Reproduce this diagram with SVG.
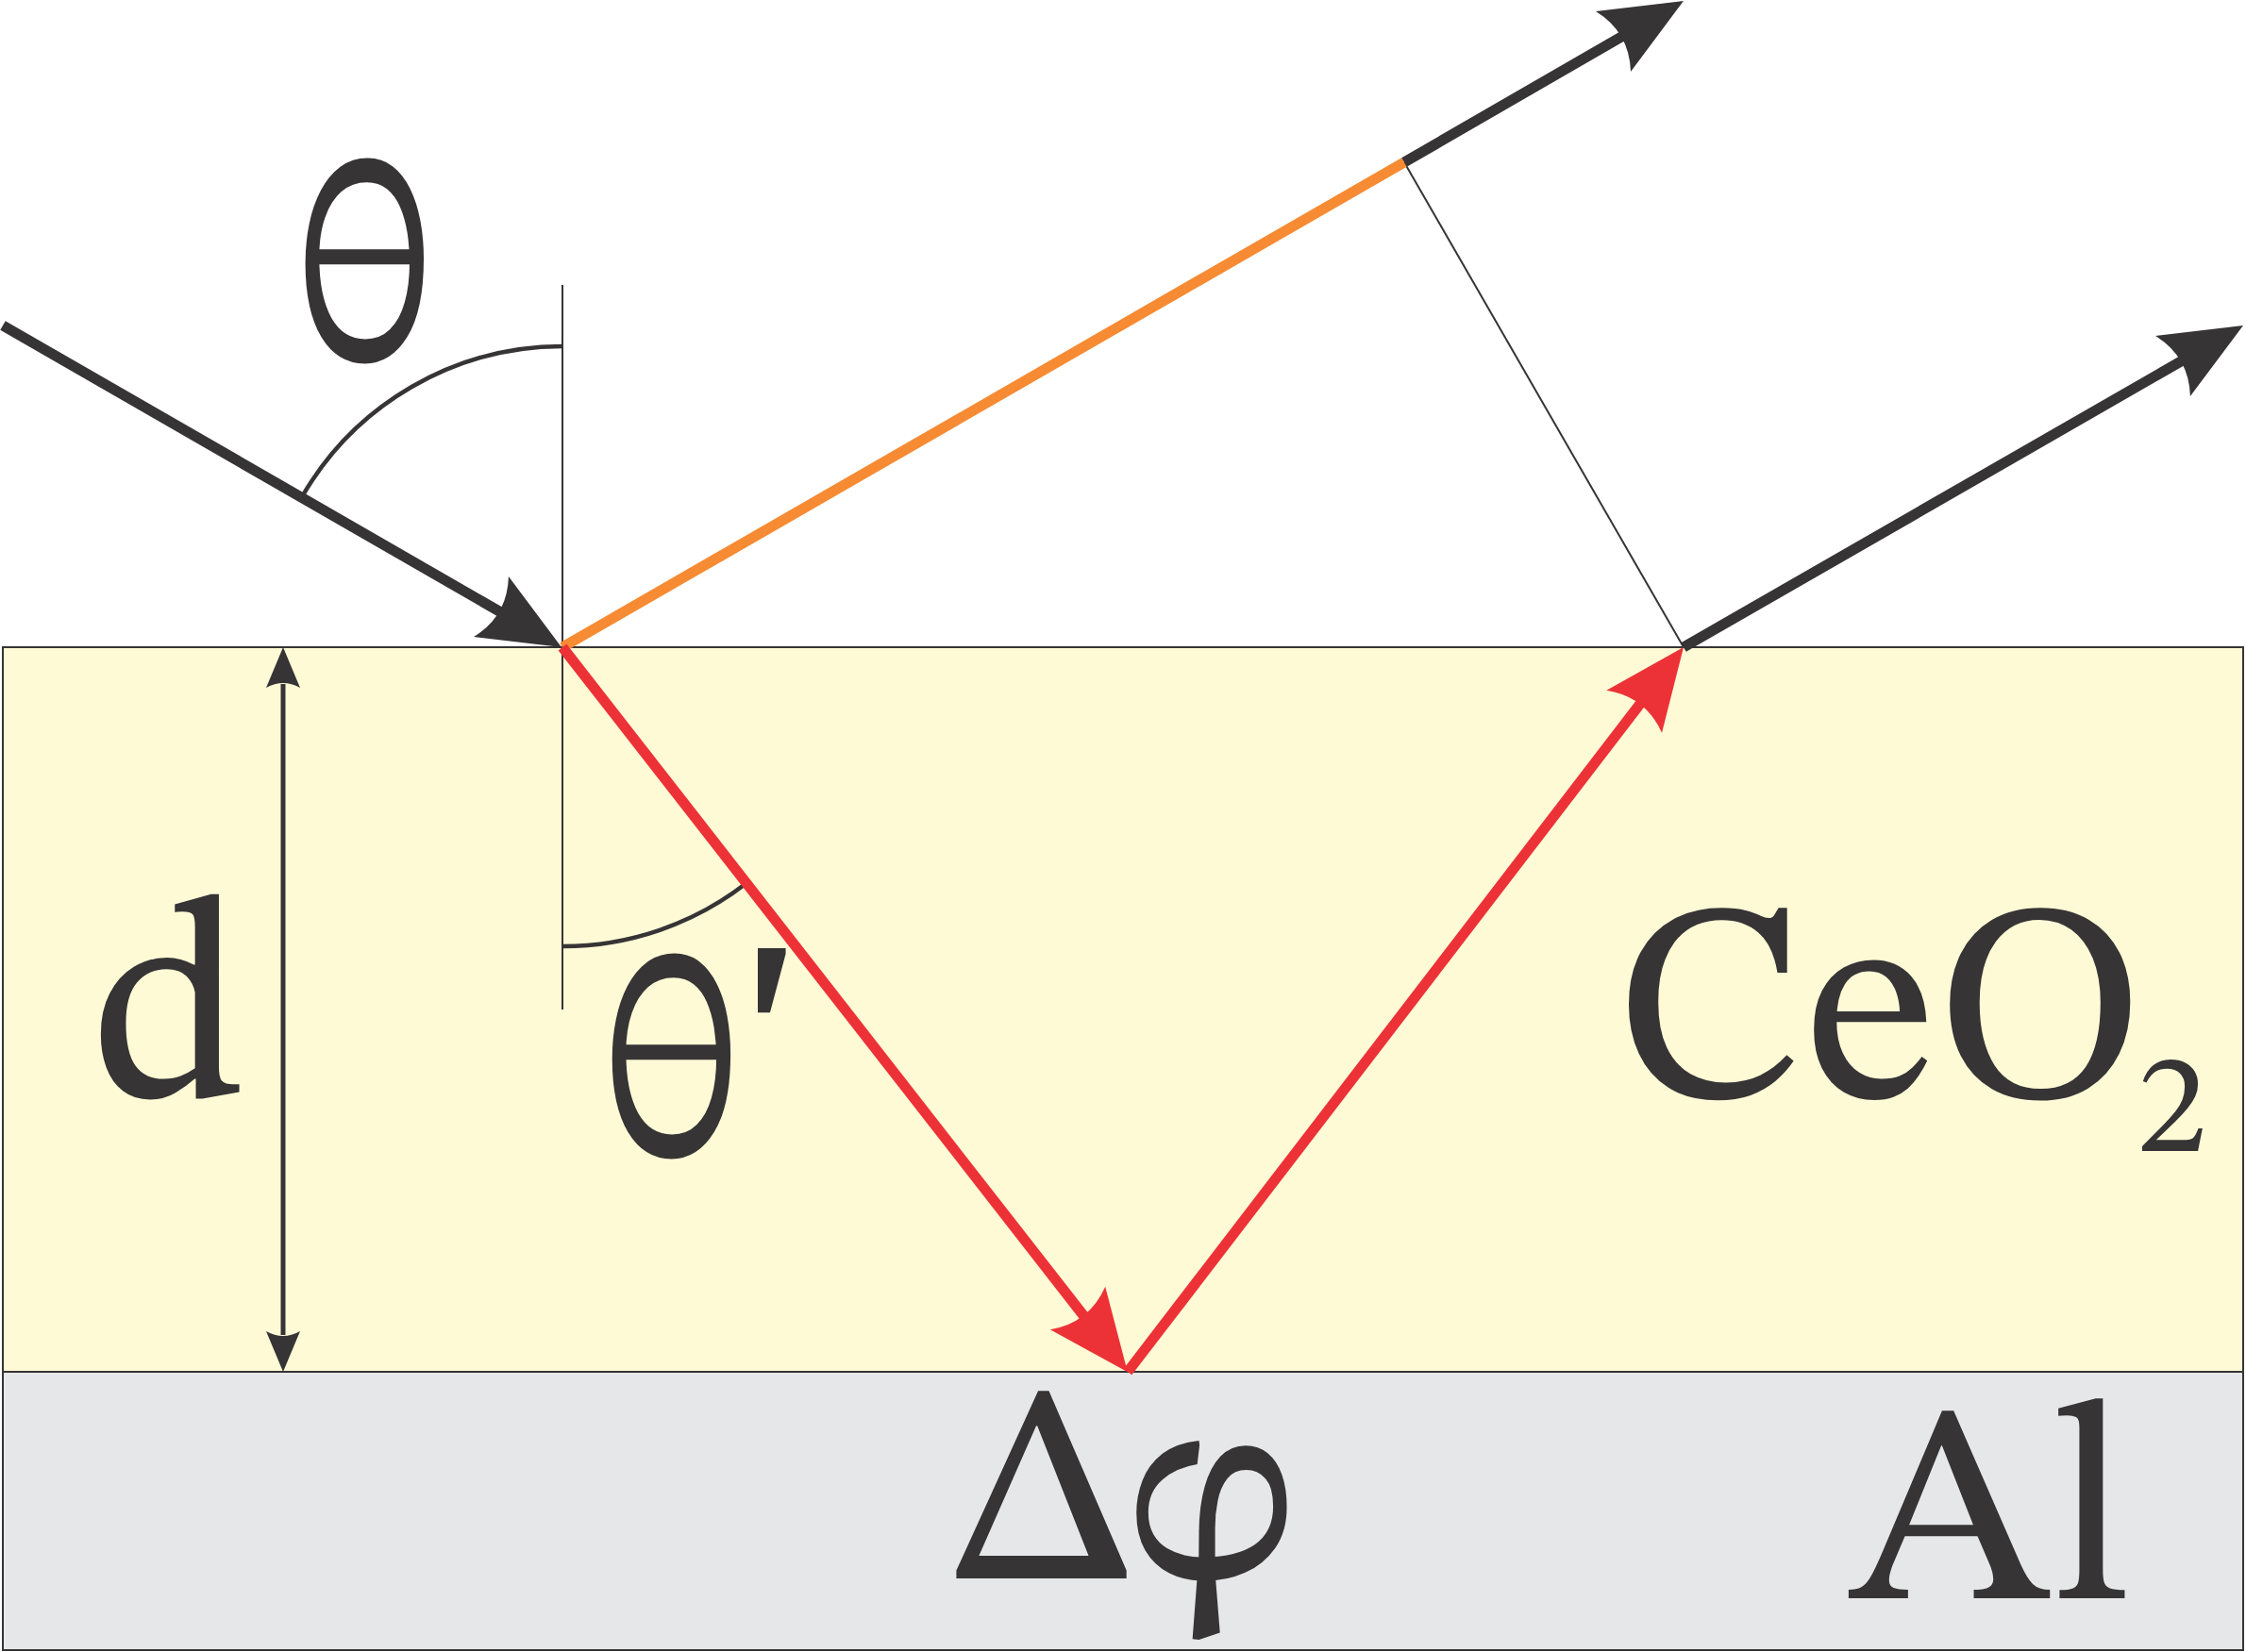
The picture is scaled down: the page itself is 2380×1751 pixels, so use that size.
<svg xmlns="http://www.w3.org/2000/svg" width="2380" height="1751" viewBox="0 0 2380 1751">
<style>
.lbl{fill:#363435;font-family:'STIX Two Text',STIXGeneral,FreeSerif,'Liberation Serif',serif}
.ray{fill:none;stroke-width:11;stroke-linecap:butt}
.dk{stroke:#363435}
.thin{stroke:#363435;stroke-width:2;fill:none}
.arc{stroke:#363435;stroke-width:4.5;fill:none}
</style>
<defs>
<marker id="ahDark" markerUnits="userSpaceOnUse" orient="auto" overflow="visible" markerWidth="1" markerHeight="1" refX="0" refY="0">
<path d="M60,0 L-26,-37 Q-6,0 -26,37 Z" fill="#363435"/>
</marker>
<marker id="ahRed" markerUnits="userSpaceOnUse" orient="auto" overflow="visible" markerWidth="1" markerHeight="1" refX="0" refY="0">
<path d="M60,0 L-26,-37 Q-6,0 -26,37 Z" fill="#EC3237"/>
</marker>
<marker id="ahSmall" markerUnits="userSpaceOnUse" orient="auto-start-reverse" overflow="visible" markerWidth="1" markerHeight="1" refX="0" refY="0">
<path d="M39,0 L-4,-18 Q6,0 -4,18 Z" fill="#363435"/>
</marker>
</defs>
<rect width="2380" height="1751" fill="#ffffff"/>
<g id="ceo2-layer">
<rect x="3" y="686" width="2374" height="768" fill="#FFFAD6" stroke="#363435" stroke-width="2"/>
<text class="lbl" x="1711" y="1163" font-size="300">CeO<tspan font-size="150" dx="-8" dy="57">2</tspan></text>
</g>
<g id="al-layer">
<rect x="3" y="1454" width="2374" height="295" fill="#E6E7E8" stroke="#363435" stroke-width="2"/>
<text class="lbl" x="1958" y="1694" font-size="300">Al</text>
</g>
<g id="labels">
<text id="theta" class="lbl" x="386" y="381" font-size="300" text-anchor="middle">θ</text>
<text id="theta-prime" class="lbl" font-size="300"><tspan x="634" y="1224">θ</tspan><tspan x="785" y="1245" font-size="340">'</tspan></text>
<text id="d-label" class="lbl" x="179" y="1163" font-size="305" text-anchor="middle">d</text>
<text id="dphi" class="lbl" x="1005" y="1673" font-size="300">Δ<tspan dx="-12">φ</tspan></text>
</g>
<g id="connectors">
<line class="thin" x1="596" y1="302" x2="596" y2="1070"/>
<path class="arc" d="M319.6 527.3 A319 319 0 0 1 596 367"/>
<path class="arc" d="M596 1003 A317 317 0 0 0 791 936"/>
<line class="thin" x1="1488" y1="172" x2="1784" y2="686"/>
<line x1="300" y1="725" x2="300" y2="1415" stroke="#363435" stroke-width="5" marker-start="url(#ahSmall)" marker-end="url(#ahSmall)"/>
<line class="ray dk" x1="3" y1="345" x2="543" y2="656" marker-end="url(#ahDark)"/>
<line class="ray" stroke="#F68B33" x1="596" y1="686" x2="1488" y2="172"/>
<line class="ray dk" x1="1488" y1="172" x2="1732" y2="31" marker-end="url(#ahDark)"/>
<line class="ray dk" x1="1784" y1="686" x2="2325" y2="375" marker-end="url(#ahDark)"/>
<line class="ray" stroke="#EC3237" x1="596" y1="686" x2="1158" y2="1407" marker-end="url(#ahRed)"/>
<line class="ray" stroke="#EC3237" x1="1195" y1="1454" x2="1747.5" y2="733.6" marker-end="url(#ahRed)"/>
</g>
</svg>
